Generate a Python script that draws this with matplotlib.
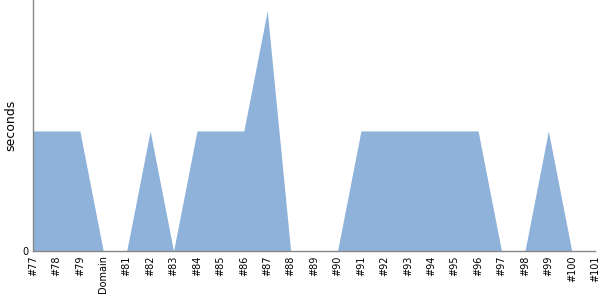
import matplotlib
matplotlib.use('Agg')
import matplotlib.pyplot as plt

# Data
labels = ['#77', '#78', '#79', 'Domain', '#81', '#82', '#83', '#84', '#85', '#86',
          '#87', '#88', '#89', '#90', '#91', '#92', '#93', '#94', '#95', '#96',
          '#97', '#98', '#99', '#100', '#101']
seconds = [1, 1, 1, 0, 0, 1, 0, 1, 1, 1,
           2, 0, 0, 0, 1, 1, 1, 1, 1, 1,
           0, 0, 1, 0, 0]

x = list(range(len(labels)))

fig = plt.figure(figsize=(6, 3), dpi=100)
ax = fig.add_axes([0.055, 0.163, 0.937, 0.837])
ax.fill_between(x, seconds, 0, color='#8fb2da', linewidth=0)

ax.set_xlim(0, len(labels) - 1)
ax.set_ylim(0, 2.09)
ax.set_xticks(x)
ax.set_xticklabels(labels, rotation=90, fontsize=7)
ax.set_yticks([0])
ax.set_yticklabels(['0'], fontsize=7)
ax.tick_params(length=0, pad=3)
ax.set_ylabel('seconds', fontsize=9, labelpad=4)

for side in ['top', 'right']:
    ax.spines[side].set_visible(False)
for side in ['left', 'bottom']:
    ax.spines[side].set_color('#888888')
    ax.spines[side].set_linewidth(1)

plt.savefig('out.png')
